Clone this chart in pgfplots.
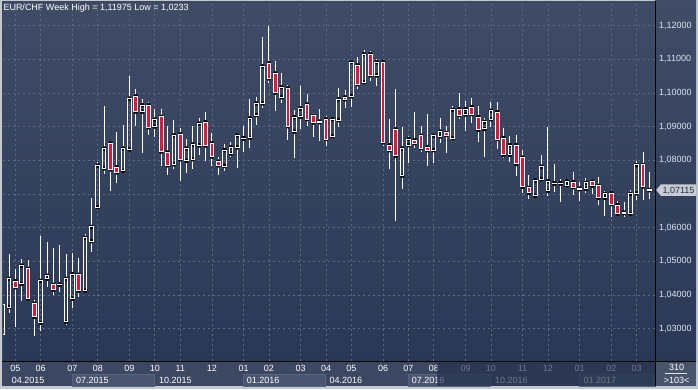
\documentclass[border=0pt]{standalone}
\usepackage{pgfplots}
\pgfplotsset{compat=1.18}
\usepackage{pgfplotstable}
\usepackage{fontspec}
\setmainfont{Liberation Sans}
\definecolor{bgtop}{RGB}{64,76,102}
\definecolor{bgbot}{RGB}{42,56,87}
\definecolor{band}{RGB}{60,71,98}
\definecolor{qbox}{RGB}{74,86,112}
\definecolor{qline}{RGB}{88,100,126}
\definecolor{outerc}{RGB}{196,200,207}
\definecolor{gridc}{RGB}{92,106,134}
\definecolor{candlered}{RGB}{224,22,58}
\definecolor{ticktext}{RGB}{222,229,240}
\definecolor{dimmer}{RGB}{34,47,75}
\definecolor{lastbg}{RGB}{200,204,212}
\definecolor{lasttext}{RGB}{34,44,66}
\definecolor{cellc}{RGB}{72,83,108}

% bearish weeks (open > close)
\pgfplotstableread{
i O H L C
2 1.0441 1.0478 1.0305 1.0423
4 1.0478 1.0503 1.0382 1.0389
5 1.0374 1.0384 1.0278 1.0335
8 1.0430 1.0540 1.0400 1.0416
12 1.0460 1.0510 1.0394 1.0413
17 1.0850 1.0858 1.0710 1.0773
18 1.0779 1.0885 1.0734 1.0764
21 1.0990 1.1013 1.0902 1.0944
23 1.0964 1.0974 1.0875 1.0898
25 1.0929 1.0951 1.0783 1.0826
26 1.0823 1.0902 1.0756 1.0785
28 1.0877 1.0895 1.0737 1.0803
32 1.0913 1.0942 1.0799 1.0844
33 1.0850 1.0882 1.0783 1.0811
34 1.0796 1.0811 1.0756 1.0785
42 1.1088 1.11975 1.1030 1.1043
43 1.1058 1.1095 1.0946 1.1001
45 1.1014 1.1025 1.0861 1.0901
48 1.0966 1.0996 1.0902 1.0922
49 1.0932 1.0940 1.0870 1.0912
51 1.0922 1.0932 1.0841 1.0863
54 1.0987 1.1009 1.0954 1.0981
56 1.1082 1.1108 1.1013 1.1026
58 1.1115 1.1125 1.1036 1.1052
60 1.1091 1.1098 1.0841 1.0853
61 1.0845 1.0922 1.0774 1.0830
62 1.0892 1.1013 1.0620 1.0813
65 1.0860 1.0944 1.0835 1.0851
66 1.0873 1.0902 1.0826 1.0836
67 1.0839 1.0937 1.0784 1.0830
70 1.0881 1.0902 1.0823 1.0875
72 1.0952 1.1001 1.0924 1.0934
74 1.0958 1.0985 1.0910 1.0937
75 1.0928 1.0960 1.0853 1.0890
78 1.0943 1.0972 1.0833 1.0863
79 1.0866 1.0895 1.0806 1.0816
81 1.0845 1.0875 1.0752 1.0789
82 1.0808 1.0831 1.0703 1.0721
83 1.0718 1.0756 1.0685 1.0703
90 1.0735 1.0764 1.0698 1.0720
91 1.0716 1.0735 1.0680 1.0714
93 1.0736 1.0741 1.0700 1.0724
94 1.0724 1.0751 1.0668 1.0688
96 1.0702 1.0705 1.0633 1.0670
97 1.0667 1.0680 1.0636 1.0641
101 1.0786 1.0825 1.0682 1.0722
102 1.0712 1.0764 1.0685 1.07115
}\reddata

% bullish weeks (close >= open)
\pgfplotstableread{
i O H L C
0 1.0283 1.0380 1.0233 1.0372
1 1.0364 1.0522 1.0346 1.0448
3 1.0433 1.0508 1.0382 1.0487
6 1.0317 1.0574 1.0293 1.0442
7 1.0448 1.0556 1.0423 1.0457
9 1.0430 1.0547 1.0409 1.0431
10 1.0320 1.0522 1.0311 1.0448
11 1.0389 1.0526 1.0361 1.0462
13 1.0413 1.0580 1.0409 1.0570
14 1.0560 1.0689 1.0527 1.0602
15 1.0661 1.0795 1.0658 1.0784
16 1.0776 1.0961 1.0759 1.0835
19 1.0769 1.0905 1.0766 1.0835
20 1.0832 1.1050 1.0828 1.0983
22 1.0944 1.0983 1.0823 1.0964
24 1.0900 1.0951 1.0868 1.0921
27 1.0788 1.0919 1.0773 1.0874
29 1.0798 1.0862 1.0761 1.0835
30 1.0803 1.0902 1.0773 1.0847
31 1.0844 1.0927 1.0816 1.0909
35 1.0783 1.0848 1.0768 1.0830
36 1.0820 1.0855 1.0811 1.0839
37 1.0838 1.0880 1.0778 1.0874
38 1.0864 1.0902 1.0825 1.0866
39 1.0867 1.0981 1.0835 1.0925
40 1.0934 1.0988 1.0906 1.0969
41 1.0969 1.1166 1.0956 1.1079
44 1.0987 1.1058 1.0971 1.1017
46 1.0885 1.0948 1.0808 1.0928
47 1.0929 1.1022 1.0892 1.0954
50 1.0913 1.0951 1.0857 1.0915
52 1.0871 1.0927 1.0863 1.0922
53 1.0919 1.1016 1.0900 1.0981
55 1.0990 1.1095 1.0957 1.1091
57 1.1032 1.1128 1.1030 1.1115
59 1.1052 1.1100 1.1021 1.1091
63 1.0754 1.0900 1.0714 1.0835
64 1.0845 1.0873 1.0792 1.0863
68 1.0830 1.0878 1.0791 1.0873
69 1.0871 1.0925 1.0851 1.0885
71 1.0865 1.0960 1.0856 1.0950
73 1.0936 1.0977 1.0886 1.0952
76 1.0893 1.0925 1.0809 1.0914
77 1.0922 1.0974 1.0898 1.0947
80 1.0816 1.0873 1.0794 1.0845
84 1.0694 1.0742 1.0693 1.0740
85 1.0744 1.0816 1.0742 1.0781
86 1.0709 1.0899 1.0693 1.0738
87 1.0730 1.0789 1.0707 1.0732
88 1.0731 1.0744 1.0675 1.0732
89 1.0726 1.0740 1.0722 1.0737
92 1.0715 1.0746 1.0702 1.0733
95 1.0688 1.0710 1.0636 1.0700
98 1.0643 1.0675 1.0633 1.0645
99 1.0641 1.0712 1.0636 1.0700
100 1.0702 1.0799 1.0682 1.0786
}\whitedata

\pgfplotsset{
  candlebase/.style={scale only axis, width=652pt, height=358pt,
    xmin=0.05, xmax=102.89, ymin=1.0204, ymax=1.1267, clip=true},
  wick/.style={only marks, mark=none, forget plot,
    error bars/y explicit, error bars/error mark=none,
    error bars/error bar style={draw=white, solid, line width=1pt}},
}

\begin{document}
\begin{tikzpicture}
% frame and panels
\fill[outerc] (-3pt,-28pt) rectangle (695pt,361pt);
\fill[band] (-1pt,-25pt) rectangle (693pt,360pt);
\shade[top color=bgtop, bottom color=bgbot] (652pt,0pt) rectangle (693pt,360pt);
\fill[cellc] (652pt,-25pt) rectangle (693pt,0pt);
\foreach \a/\b in {69.7/151.3, 240.3/322, 405.3/487, 576/652}
  \filldraw[fill=qbox, draw=qline, line width=0.6pt] (\a pt,-25pt) rectangle (\b pt,-13pt);

\begin{axis}[candlebase,
  axis line style={draw=none},
  axis background/.style={shade, top color=bgtop, bottom color=bgbot},
  xtick={2,6,11,15,20,24,28,33,38,42,47,51,55,60,64,68,73,77,82,86,91,96,100},
  xticklabels={05,06,07,08,09,10,11,12,01,02,03,04,05,06,07,08,09,10,11,12,01,02,03},
  ytick={1.03,1.04,1.05,1.06,1.08,1.09,1.10,1.11,1.12},
  extra y ticks={1.07},
  extra y tick labels={},
  extra y tick style={grid=major},
  yticklabel pos=right,
  grid=major,
  major grid style={gridc, dash pattern=on 2pt off 3pt, line width=0.7pt},
  major tick length=0pt,
  tick style={draw=none},
  xticklabel style={anchor=north, inner sep=0pt, yshift=-4.5pt, text=white,
    font=\fontsize{9}{10}\selectfont},
  yticklabel style={anchor=west, inner sep=0pt, xshift=4pt, text=ticktext,
    font=\fontsize{9}{10}\selectfont,
    /pgf/number format/.cd, fixed, fixed zerofill, precision=5, use comma,
    1000 sep={}, assume math mode=true},
]
\addplot[wick, error bars/y dir=plus] table[x=i, y=O, y error expr=\thisrow{H}-\thisrow{O}] \reddata;
\addplot[wick, error bars/y dir=minus] table[x=i, y=C, y error expr=\thisrow{C}-\thisrow{L}] \reddata;
\addplot[wick, error bars/y dir=plus] table[x=i, y=C, y error expr=\thisrow{H}-\thisrow{C}] \whitedata;
\addplot[wick, error bars/y dir=minus] table[x=i, y=O, y error expr=\thisrow{O}-\thisrow{L}] \whitedata;
\coordinate (lastp) at (axis cs:102.89,1.07115);
\end{axis}

\begin{axis}[candlebase, hide axis, ybar stacked, bar width=3.7pt]
\addplot[draw=none, fill=none] table[x=i, y=C] \reddata;
\addplot[draw=white, line width=1pt, fill=candlered] table[x=i, y expr=\thisrow{O}-\thisrow{C}] \reddata;
\end{axis}

\begin{axis}[candlebase, hide axis, ybar stacked, bar width=3.7pt]
\addplot[draw=none, fill=none] table[x=i, y=O] \whitedata;
\addplot[draw=white, line width=1pt, fill=none] table[x=i, y expr=\thisrow{C}-\thisrow{O}] \whitedata;
\end{axis}

% title
\node[anchor=base west, inner sep=0pt, text=white, font=\fontsize{9}{10}\selectfont]
  at (0.3pt,350.2pt) {EUR/CHF Week High = 1,11975 Low = 1,0233};

% quarter labels
\begin{scope}[every node/.style={anchor=base west, inner sep=0pt, text=white, font=\fontsize{9}{10}\selectfont}]
\node at (8.7pt,-22.3pt) {04.2015};
\node at (73pt,-22.3pt) {07.2015};
\node at (156pt,-22.3pt) {10.2015};
\node at (243.7pt,-22.3pt) {01.2016};
\node at (326.3pt,-22.3pt) {04.2016};
\node at (408.7pt,-22.3pt) {07.2016};
\node at (492pt,-22.3pt) {10.2016};
\node at (580.3pt,-22.3pt) {01.2017};
\end{scope}

% dimmed navigator part
\fill[dimmer, opacity=0.65] (434pt,-25pt) rectangle (652pt,0pt);

% separators
\draw[black, line width=1pt] (-1pt,0pt) -- (693pt,0pt);
\draw[black, line width=1pt] (652.5pt,-25pt) -- (652.5pt,360pt);

% last price marker
\fill[lastbg] ([xshift=1.2pt]lastp) -- ([xshift=6pt,yshift=5.8pt]lastp) -- ([xshift=41pt,yshift=5.8pt]lastp)
  -- ([xshift=41pt,yshift=-5.8pt]lastp) -- ([xshift=6pt,yshift=-5.8pt]lastp) -- cycle;
\node[anchor=center, inner sep=0pt, text=lasttext, font=\fontsize{9}{10}\selectfont]
  at ([xshift=23.5pt,yshift=-0.5pt]lastp) {1,07115};

% bar count cell
\node[anchor=center, inner sep=0pt, text=white, font=\fontsize{9}{10}\selectfont] at (673.7pt,-6.8pt) {310};
\draw[ticktext, line width=0.6pt] (662pt,-12.5pt) -- (684pt,-12.5pt);
\node[anchor=center, inner sep=0pt, text=white, font=\fontsize{9}{10}\selectfont] at (673.7pt,-19.3pt) {>103<};

\pgfresetboundingbox
\path[use as bounding box] (-3pt,-28pt) rectangle (695pt,361pt);
\end{tikzpicture}
\end{document}
